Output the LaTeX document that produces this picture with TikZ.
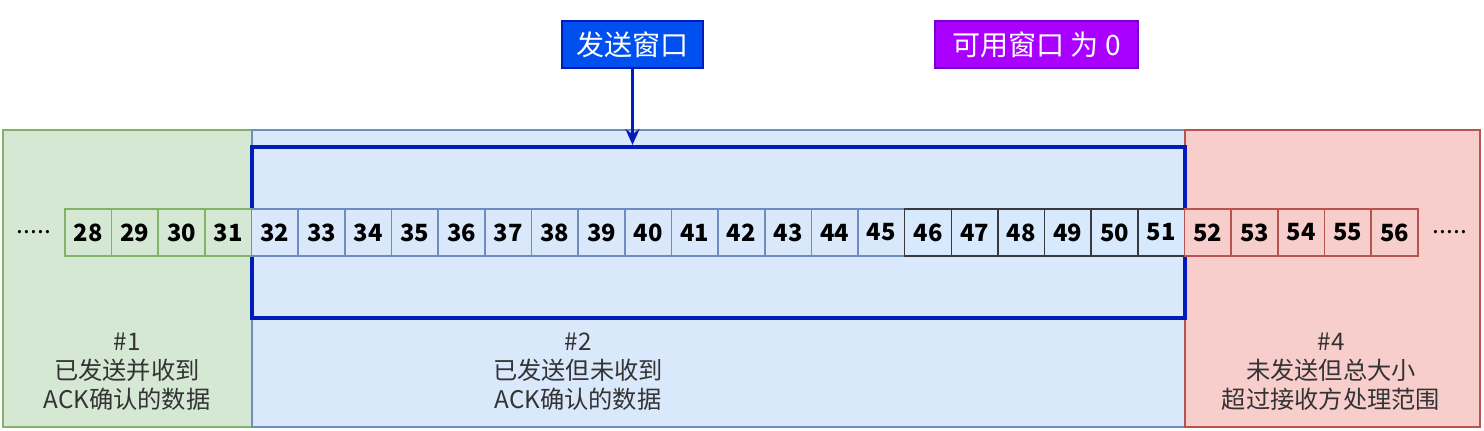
\documentclass[tikz,border=0pt]{standalone}
\usepackage{fontspec}
\newfontfamily\cjk{Noto Sans CJK SC}
\usetikzlibrary{arrows.meta}
\usetikzlibrary{positioning}

\definecolor{ackfill}{HTML}{D5E8D4}
\definecolor{ackedge}{HTML}{82B366}
\definecolor{sentfill}{HTML}{DAE8FC}
\definecolor{sentedge}{HTML}{6C8EBF}
\definecolor{overfill}{HTML}{F8CECC}
\definecolor{overedge}{HTML}{B85450}
\definecolor{winedge}{HTML}{001DBC}
\definecolor{freefill}{HTML}{D6E9FD}
\definecolor{freeedge}{HTML}{36393D}
\definecolor{sendfill}{HTML}{0050EF}
\definecolor{availfill}{HTML}{AA00FF}
\definecolor{availedge}{HTML}{7700CC}
\definecolor{notetext}{HTML}{333333}

\begin{document}
\begin{tikzpicture}[x=0.02cm, y=0.02cm,
  cell/.style={draw, line width=0.9pt, minimum width=0.933cm, minimum height=0.94cm, inner sep=0pt,
    font=\cjk\fontsize{13.5}{13.5}\selectfont\bfseries},
  note/.style={align=center, text=notetext, font=\cjk\fontsize{13.8}{16.5}\selectfont},
  tag/.style={minimum height=0.94cm, inner sep=0pt, text=white, line width=0.9pt,
    font=\cjk\fontsize{16}{16}\selectfont}]
\useasboundingbox (0,0) rectangle (1484,431);

% the three zones
\draw[ackedge, fill=ackfill, line width=1.2pt] (3,4) rectangle (252,301);
\draw[sentedge, fill=sentfill, line width=1.2pt] (252,4) rectangle (1185,301);
\draw[overedge, fill=overfill, line width=1.2pt] (1185,4) rectangle (1480,301);

% send window
\node[draw=winedge, line width=2.4pt, minimum width=18.66cm, minimum height=3.42cm, inner sep=0pt] (win) at (718.5,198.5) {};

% byte cells
\foreach \n in {28,...,31} {
 \node[cell, draw=ackedge, fill=ackfill] (c\n) at ({88.3+(\n-28)*46.65},198.5) {\n};
}
\foreach \n in {32,...,45} {
 \node[cell, draw=sentedge, fill=sentfill] (c\n) at ({88.3+(\n-28)*46.65},198.5) {\n};
}
\foreach \n in {46,...,51} {
 \node[cell, draw=freeedge, fill=freefill] (c\n) at ({88.3+(\n-28)*46.65},198.5) {\n};
}
\foreach \n in {52,...,56} {
 \node[cell, draw=overedge, fill=overfill] (c\n) at ({88.3+(\n-28)*46.65},198.5) {\n};
}
\node[font=\cjk\fontsize{14}{14}\selectfont, anchor=base] (ldots) at (34,197) {.....};
\node[font=\cjk\fontsize{14}{14}\selectfont, anchor=base] (rdots) at (1450,197) {.....};

% zone notes
\node[note] (n1) at (127,59) {\#1\\已发送并收到\\ACK确认的数据};
\node[note] (n2) at (578,59) {\#2\\已发送但未收到\\ACK确认的数据};
\node[note] (n4) at (1331,59) {\#4\\未发送但总大小\\超过接收方处理范围};

% tags on top
\node[tag, draw=winedge, fill=sendfill, minimum width=2.82cm] (send) at (632.5,386.5) {发送窗口};
\node[tag, draw=availedge, fill=availfill, minimum width=4.06cm] (avail) at (1036.5,386.5) {可用窗口 为 0};
\draw[winedge, line width=1.4pt, -{Stealth[length=9pt, width=8pt]}] (send.south) -- (send.south |- win.north);
\end{tikzpicture}
\end{document}
